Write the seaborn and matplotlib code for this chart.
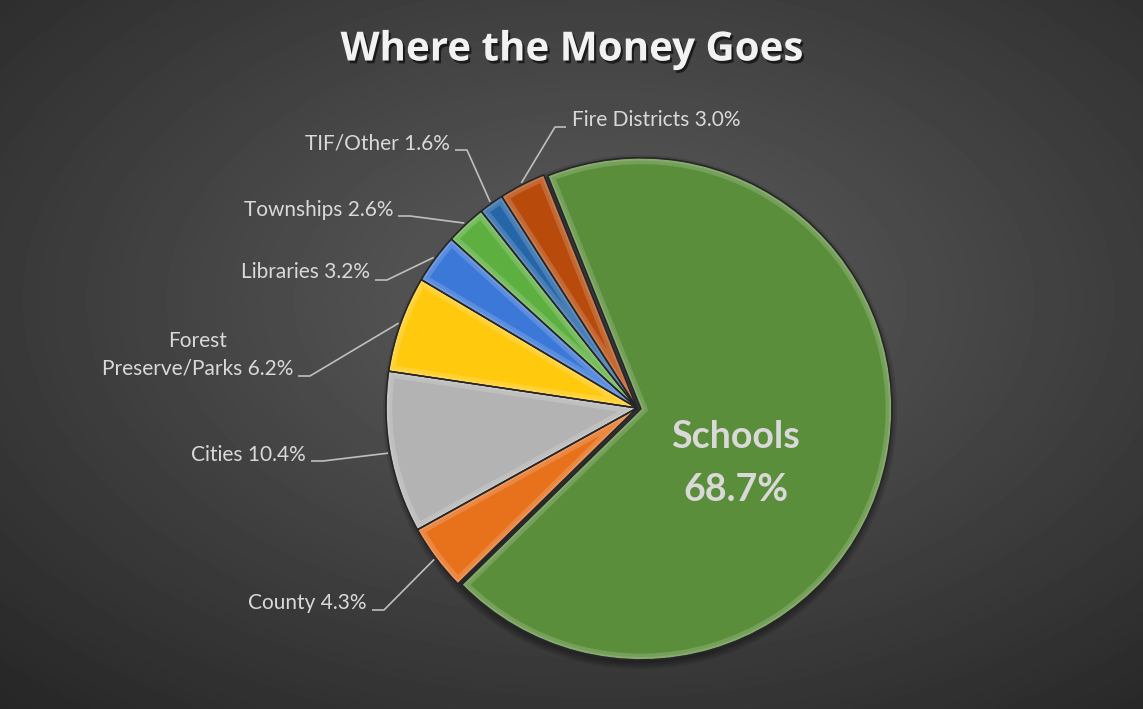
import numpy as np
import matplotlib.pyplot as plt
import matplotlib.patches as mpatches
import matplotlib.patheffects as pe
import seaborn as sns

# chart data (clockwise from the top)
categories = ["Schools", "County", "Cities", "Forest\nPreserve/Parks", "Libraries",
              "Townships", "TIF/Other", "Fire Districts"]
shares = [68.7, 4.3, 10.4, 6.2, 3.2, 2.6, 1.6, 3.0]
colors = ["#5B8E3A", "#E8711C", "#B3B3B3", "#FFC90E", "#3C78D8",
          "#5DB040", "#2566A8", "#B84A0C"]

sns.set_theme(style="dark")
plt.rcParams['font.family'] = ['Lato', 'DejaVu Sans']

W, H = 1143, 709
fig = plt.figure(figsize=(W / 100, H / 100), dpi=100)
ax = fig.add_axes([0, 0, 1, 1])

# dark radial background
yy, xx = np.mgrid[0:H, 0:W]
d = np.hypot((xx - 600) / W, (yy - 300) / H)
bg = np.clip(0.368 - 0.28 * d, 0, 1)
ax.imshow(bg, cmap="gray", vmin=0, vmax=1, extent=[0, W, 0, H],
          origin="upper", zorder=0, interpolation="bilinear")

cx, cy, R = 637, H - 408, 251

# soft shadow under the pie
for k, a in enumerate([0.10, 0.10, 0.10, 0.12]):
    ax.add_patch(mpatches.Circle((cx + 3, cy - 4), R + 6 - 2 * k, color="black",
                                 alpha=a, zorder=1, lw=0))

wedges, _ = ax.pie(shares, colors=colors, startangle=111.8, counterclock=False,
                   radius=R, center=(cx, cy), explode=[4, 0, 0, 0, 0, 0, 0, 0],
                   frame=True,
                   wedgeprops=dict(edgecolor="#2b2b2b", linewidth=1.0, zorder=2))

# bevel highlight: light stroke clipped inside each wedge
for w in wedges:
    hl = mpatches.Wedge(w.center, w.r, w.theta1, w.theta2, facecolor="none",
                        edgecolor="white", alpha=0.16, linewidth=9, zorder=3)
    ax.add_patch(hl)
    hl.set_clip_path(w)
    hl2 = mpatches.Wedge(w.center, w.r, w.theta1, w.theta2, facecolor="none",
                         edgecolor="white", alpha=0.12, linewidth=4, zorder=3)
    ax.add_patch(hl2)
    hl2.set_clip_path(w)
    dk = mpatches.Wedge(w.center, w.r, w.theta1, w.theta2, facecolor="none",
                        edgecolor="#262626", linewidth=1.0, zorder=4)
    ax.add_patch(dk)

label_color = "#D9D9D9"

# label layout: text anchor (px from top), alignment, leader y (px from top)
label_pos = [None, (367, 603, "right", 610), (306, 455, "right", 461),
             (293, 355, "right", 376), (370, 272, "right", 280),
             (393, 210, "right", 216), (450, 143, "right", 150),
             (572, 120, "left", 127)]

for i, w in enumerate(wedges):
    if label_pos[i] is None:
        continue
    tx, ty, ha, ly = label_pos[i]
    ax.text(tx, H - ty, f"{categories[i]} {shares[i]:.1f}%", ha=ha, va="center",
            multialignment="center", fontsize=15, color=label_color,
            linespacing=1.45, zorder=6)
    mid = np.deg2rad((w.theta1 + w.theta2) / 2)
    rx = w.center[0] + (R + 2) * np.cos(mid)
    ry = w.center[1] + (R + 2) * np.sin(mid)
    if ha == "right":
        x0, x1 = tx + 5, tx + 17
    else:
        x0, x1 = tx - 6, tx - 17
    ax.plot([x0, x1, rx], [H - ly, H - ly, ry], color="#BFBFBF", lw=1.2,
            zorder=5, solid_capstyle="butt")

# big label inside the Schools slice
ax.text(736, H - 437, categories[0], ha="center", va="center", fontsize=27,
        fontweight="bold", color=label_color, zorder=6)
ax.text(736, H - 490, f"{shares[0]}%", ha="center", va="center", fontsize=27,
        fontweight="bold", color=label_color, zorder=6)

ax.text(W / 2, H - 50, "Where the Money Goes", ha="center", va="center",
        fontsize=29, fontweight="bold", color="#F2F2F2", zorder=6,
        family=["Open Sans", "DejaVu Sans"],
        path_effects=[pe.withSimplePatchShadow(offset=(1.5, -2), shadow_rgbFace="black",
                                               alpha=0.6)])

ax.set_xlim(0, W)
ax.set_ylim(0, H)
ax.set_aspect("equal")
ax.axis("off")

fig.savefig("out.png", dpi=100)
